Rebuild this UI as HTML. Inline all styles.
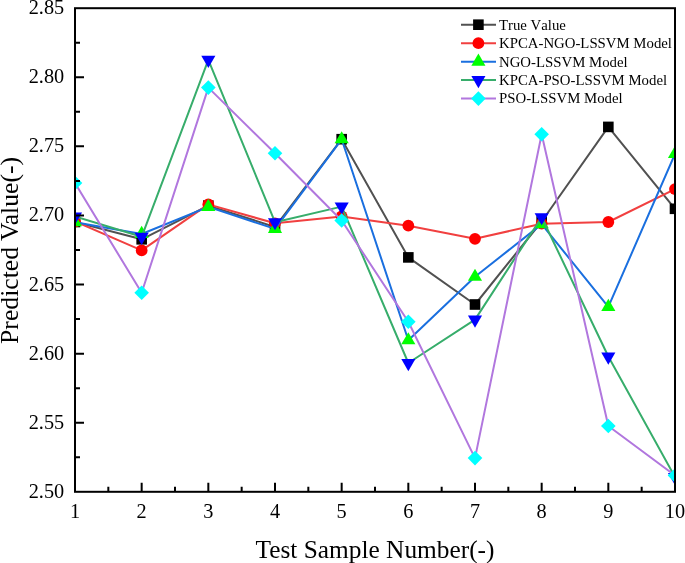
<!DOCTYPE html><html><head><meta charset="utf-8"><style>html,body{margin:0;padding:0;background:#fff;}svg{display:block;}text{font-family:"Liberation Serif",serif;fill:#000;} .nk{font-kerning:none} .tx{filter:grayscale(1)}</style></head><body>
<svg width="685" height="563" viewBox="0 0 685 563">
<rect width="685" height="563" fill="#fff"/>
<defs><clipPath id="c"><rect x="75.0" y="8.2" width="600.0" height="483.6"/></clipPath></defs>
<g clip-path="url(#c)">
<polyline points="75.00,222.00 141.67,239.30 208.33,205.60 275.00,227.00 341.67,139.20 408.33,257.40 475.00,304.50 541.67,221.50 608.33,126.90 675.00,208.80" fill="none" stroke="#515151" stroke-width="2.0" stroke-linejoin="round"/>
<rect x="69.70" y="216.70" width="10.6" height="10.6" fill="#000000"/>
<rect x="136.37" y="234.00" width="10.6" height="10.6" fill="#000000"/>
<rect x="203.03" y="200.30" width="10.6" height="10.6" fill="#000000"/>
<rect x="269.70" y="221.70" width="10.6" height="10.6" fill="#000000"/>
<rect x="336.37" y="133.90" width="10.6" height="10.6" fill="#000000"/>
<rect x="403.03" y="252.10" width="10.6" height="10.6" fill="#000000"/>
<rect x="469.70" y="299.20" width="10.6" height="10.6" fill="#000000"/>
<rect x="536.37" y="216.20" width="10.6" height="10.6" fill="#000000"/>
<rect x="603.03" y="121.60" width="10.6" height="10.6" fill="#000000"/>
<rect x="669.70" y="203.50" width="10.6" height="10.6" fill="#000000"/>
<polyline points="75.00,221.50 141.67,250.40 208.33,204.40 275.00,223.30 341.67,216.50 408.33,225.70 475.00,238.80 541.67,223.70 608.33,222.00 675.00,189.10" fill="none" stroke="#F14040" stroke-width="2.0" stroke-linejoin="round"/>
<circle cx="75.00" cy="221.50" r="5.9" fill="#FF0000"/>
<circle cx="141.67" cy="250.40" r="5.9" fill="#FF0000"/>
<circle cx="208.33" cy="204.40" r="5.9" fill="#FF0000"/>
<circle cx="275.00" cy="223.30" r="5.9" fill="#FF0000"/>
<circle cx="341.67" cy="216.50" r="5.9" fill="#FF0000"/>
<circle cx="408.33" cy="225.70" r="5.9" fill="#FF0000"/>
<circle cx="475.00" cy="238.80" r="5.9" fill="#FF0000"/>
<circle cx="541.67" cy="223.70" r="5.9" fill="#FF0000"/>
<circle cx="608.33" cy="222.00" r="5.9" fill="#FF0000"/>
<circle cx="675.00" cy="189.10" r="5.9" fill="#FF0000"/>
<polyline points="75.00,222.20 141.67,234.00 208.33,206.90 275.00,228.90 341.67,139.30 408.33,340.30 475.00,276.80 541.67,224.10 608.33,306.90 675.00,153.90" fill="none" stroke="#1A6FDF" stroke-width="2.0" stroke-linejoin="round"/>
<path d="M75.00 214.07L82.05 226.27L67.95 226.27Z" fill="#00FF00"/>
<path d="M141.67 225.87L148.72 238.07L134.62 238.07Z" fill="#00FF00"/>
<path d="M208.33 198.77L215.38 210.97L201.28 210.97Z" fill="#00FF00"/>
<path d="M275.00 220.77L282.05 232.97L267.95 232.97Z" fill="#00FF00"/>
<path d="M341.67 131.17L348.72 143.37L334.62 143.37Z" fill="#00FF00"/>
<path d="M408.33 332.17L415.38 344.37L401.28 344.37Z" fill="#00FF00"/>
<path d="M475.00 268.67L482.05 280.87L467.95 280.87Z" fill="#00FF00"/>
<path d="M541.67 215.97L548.72 228.17L534.62 228.17Z" fill="#00FF00"/>
<path d="M608.33 298.77L615.38 310.97L601.28 310.97Z" fill="#00FF00"/>
<path d="M675.00 145.77L682.05 157.97L667.95 157.97Z" fill="#00FF00"/>
<polyline points="75.00,216.50 141.67,236.80 208.33,59.90 275.00,222.20 341.67,206.60 408.33,363.00 475.00,319.60 541.67,217.20 608.33,356.50 675.00,477.00" fill="none" stroke="#37AD6B" stroke-width="2.0" stroke-linejoin="round"/>
<path d="M67.95 212.43L82.05 212.43L75.00 224.63Z" fill="#0000FF"/>
<path d="M134.62 232.73L148.72 232.73L141.67 244.93Z" fill="#0000FF"/>
<path d="M201.28 55.83L215.38 55.83L208.33 68.03Z" fill="#0000FF"/>
<path d="M267.95 218.13L282.05 218.13L275.00 230.33Z" fill="#0000FF"/>
<path d="M334.62 202.53L348.72 202.53L341.67 214.73Z" fill="#0000FF"/>
<path d="M401.28 358.93L415.38 358.93L408.33 371.13Z" fill="#0000FF"/>
<path d="M467.95 315.53L482.05 315.53L475.00 327.73Z" fill="#0000FF"/>
<path d="M534.62 213.13L548.72 213.13L541.67 225.33Z" fill="#0000FF"/>
<path d="M601.28 352.43L615.38 352.43L608.33 364.63Z" fill="#0000FF"/>
<path d="M667.95 472.93L682.05 472.93L675.00 485.13Z" fill="#0000FF"/>
<polyline points="75.00,183.00 141.67,292.80 208.33,87.60 275.00,153.30 341.67,220.50 408.33,321.80 475.00,458.10 541.67,134.20 608.33,426.00 675.00,475.50" fill="none" stroke="#B177DE" stroke-width="2.0" stroke-linejoin="round"/>
<path d="M75.00 175.70L82.30 183.00L75.00 190.30L67.70 183.00Z" fill="#00FFFF"/>
<path d="M141.67 285.50L148.97 292.80L141.67 300.10L134.37 292.80Z" fill="#00FFFF"/>
<path d="M208.33 80.30L215.63 87.60L208.33 94.90L201.03 87.60Z" fill="#00FFFF"/>
<path d="M275.00 146.00L282.30 153.30L275.00 160.60L267.70 153.30Z" fill="#00FFFF"/>
<path d="M341.67 213.20L348.97 220.50L341.67 227.80L334.37 220.50Z" fill="#00FFFF"/>
<path d="M408.33 314.50L415.63 321.80L408.33 329.10L401.03 321.80Z" fill="#00FFFF"/>
<path d="M475.00 450.80L482.30 458.10L475.00 465.40L467.70 458.10Z" fill="#00FFFF"/>
<path d="M541.67 126.90L548.97 134.20L541.67 141.50L534.37 134.20Z" fill="#00FFFF"/>
<path d="M608.33 418.70L615.63 426.00L608.33 433.30L601.03 426.00Z" fill="#00FFFF"/>
<path d="M675.00 468.20L682.30 475.50L675.00 482.80L667.70 475.50Z" fill="#00FFFF"/>
</g>
<rect x="75.0" y="8.2" width="600.0" height="483.6" fill="none" stroke="#000" stroke-width="2"/>
<path d="M75.0 457.26h5.0M75.0 422.71h9.0M75.0 388.17h5.0M75.0 353.63h9.0M75.0 319.09h5.0M75.0 284.54h9.0M75.0 250.00h5.0M75.0 215.46h9.0M75.0 180.91h5.0M75.0 146.37h9.0M75.0 111.83h5.0M75.0 77.29h9.0M75.0 42.74h5.0M108.33 491.8v-5.0M175.00 491.8v-5.0M241.67 491.8v-5.0M308.33 491.8v-5.0M375.00 491.8v-5.0M441.67 491.8v-5.0M508.33 491.8v-5.0M575.00 491.8v-5.0M641.67 491.8v-5.0M141.67 491.8v-9.0M208.33 491.8v-9.0M275.00 491.8v-9.0M341.67 491.8v-9.0M408.33 491.8v-9.0M475.00 491.8v-9.0M541.67 491.8v-9.0M608.33 491.8v-9.0" stroke="#000" stroke-width="2" fill="none"/>
<text class="tx" transform="translate(64.20 497.80) scale(1 1.022)" font-size="20.3" text-anchor="end">2.50</text>
<text class="tx" transform="translate(64.20 428.71) scale(1 1.022)" font-size="20.3" text-anchor="end">2.55</text>
<text class="tx" transform="translate(64.20 359.63) scale(1 1.022)" font-size="20.3" text-anchor="end">2.60</text>
<text class="tx" transform="translate(64.20 290.54) scale(1 1.022)" font-size="20.3" text-anchor="end">2.65</text>
<text class="tx" transform="translate(64.20 221.46) scale(1 1.022)" font-size="20.3" text-anchor="end">2.70</text>
<text class="tx" transform="translate(64.20 152.37) scale(1 1.022)" font-size="20.3" text-anchor="end">2.75</text>
<text class="tx" transform="translate(64.20 83.29) scale(1 1.022)" font-size="20.3" text-anchor="end">2.80</text>
<text class="tx" transform="translate(64.20 14.20) scale(1 1.022)" font-size="20.3" text-anchor="end">2.85</text>
<text class="tx" transform="translate(75.00 517.60) scale(1 1.022)" font-size="20.3" text-anchor="middle">1</text>
<text class="tx" transform="translate(141.67 517.60) scale(1 1.022)" font-size="20.3" text-anchor="middle">2</text>
<text class="tx" transform="translate(208.33 517.60) scale(1 1.022)" font-size="20.3" text-anchor="middle">3</text>
<text class="tx" transform="translate(275.00 517.60) scale(1 1.022)" font-size="20.3" text-anchor="middle">4</text>
<text class="tx" transform="translate(341.67 517.60) scale(1 1.022)" font-size="20.3" text-anchor="middle">5</text>
<text class="tx" transform="translate(408.33 517.60) scale(1 1.022)" font-size="20.3" text-anchor="middle">6</text>
<text class="tx" transform="translate(475.00 517.60) scale(1 1.022)" font-size="20.3" text-anchor="middle">7</text>
<text class="tx" transform="translate(541.67 517.60) scale(1 1.022)" font-size="20.3" text-anchor="middle">8</text>
<text class="tx" transform="translate(608.33 517.60) scale(1 1.022)" font-size="20.3" text-anchor="middle">9</text>
<text class="tx" transform="translate(675.00 517.60) scale(1 1.022)" font-size="20.3" text-anchor="middle">10</text>
<text class="tx" transform="translate(375.00 557.50) scale(1 1.022)" font-size="25.36" text-anchor="middle">Test Sample Number(-)</text>
<text class="tx" transform="translate(17.60 250.40) scale(1 1.013) rotate(-90)" font-size="25.36" text-anchor="middle">Predicted Value(-)</text>
<line x1="461" y1="24.70" x2="496" y2="24.70" stroke="#515151" stroke-width="2.0"/>
<rect x="473.10" y="19.40" width="10.6" height="10.6" fill="#000000"/>
<text class="tx nk" transform="translate(499.00 29.60) scale(1 1.022)" font-size="14.8" text-anchor="start">True Value</text>
<line x1="461" y1="43.17" x2="496" y2="43.17" stroke="#F14040" stroke-width="2.0"/>
<circle cx="478.40" cy="43.17" r="5.9" fill="#FF0000"/>
<text class="tx nk" transform="translate(499.00 48.07) scale(1 1.022)" font-size="14.8" text-anchor="start">KPCA-NGO-LSSVM Model</text>
<line x1="461" y1="61.64" x2="496" y2="61.64" stroke="#1A6FDF" stroke-width="2.0"/>
<path d="M478.40 53.51L485.45 65.71L471.35 65.71Z" fill="#00FF00"/>
<text class="tx nk" transform="translate(499.00 66.54) scale(1 1.022)" font-size="14.8" text-anchor="start">NGO-LSSVM Model</text>
<line x1="461" y1="80.11" x2="496" y2="80.11" stroke="#37AD6B" stroke-width="2.0"/>
<path d="M471.35 76.04L485.45 76.04L478.40 88.24Z" fill="#0000FF"/>
<text class="tx nk" transform="translate(499.00 85.01) scale(1 1.022)" font-size="14.8" text-anchor="start">KPCA-PSO-LSSVM Model</text>
<line x1="461" y1="98.58" x2="496" y2="98.58" stroke="#B177DE" stroke-width="2.0"/>
<path d="M478.40 91.28L485.70 98.58L478.40 105.88L471.10 98.58Z" fill="#00FFFF"/>
<text class="tx nk" transform="translate(499.00 103.48) scale(1 1.022)" font-size="14.8" text-anchor="start">PSO-LSSVM Model</text>
</svg></body></html>
